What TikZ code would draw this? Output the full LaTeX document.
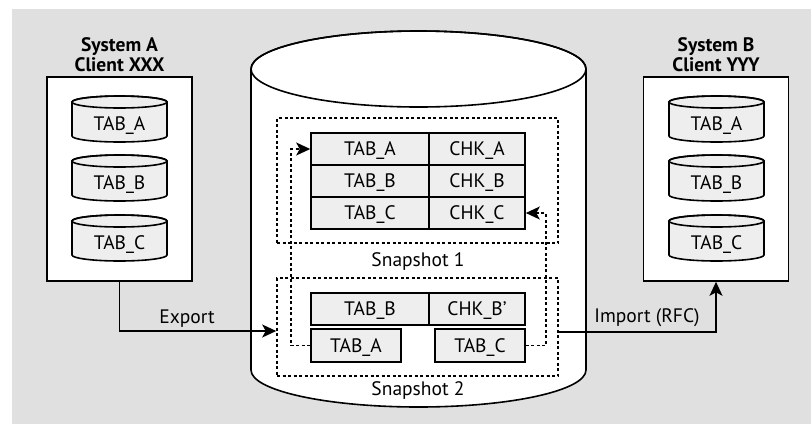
\documentclass[tikz,border=0pt]{standalone}
\usepackage{fontspec}
\setmainfont{PT Sans}
\usetikzlibrary{arrows.meta}
\definecolor{bggray}{HTML}{E0E0E0}
\definecolor{tabgray}{HTML}{EEEEEE}
\tikzset{
  txt/.style={font=\fontsize{19.5}{21}\selectfont, inner sep=0pt},
  cell/.style={txt, draw, fill=tabgray, line width=1.6pt, minimum height=32pt, text height=13.6pt, text depth=0pt},
  sysbox/.style={draw, fill=white, line width=1.6pt, minimum width=145pt, minimum height=204pt, inner sep=0pt},
  systitle/.style={inner sep=0pt, font=\fontsize{19.5}{20}\selectfont\bfseries, align=center},
  snapbox/.style={draw, line width=1.6pt, dash pattern=on 3pt off 2.5pt, minimum width=281pt, inner sep=0pt},
  flow/.style={line width=1.6pt, -{Stealth[length=14pt,width=13pt,inset=3.5pt]}},
  backflow/.style={flow, dash pattern=on 3pt off 2.5pt},
  dbline/.style={line width=1.6pt},
}
\begin{document}
\begin{tikzpicture}[x=1pt,y=-1pt]
\useasboundingbox (0,0) rectangle (811,424);
\fill[bggray] (12,9) rectangle (811,424);

\draw[dbline, fill=white] (251,69) -- (251,370) arc[start angle=180, end angle=0, x radius=167.5, y radius=37] -- (586,69) arc[start angle=0, end angle=-180, x radius=167.5, y radius=38] -- cycle;
\draw[dbline] (418.5,69) ellipse[x radius=167.5, y radius=38];

\node[sysbox] (sysA) at (119.5,179) {};
\node[sysbox] (sysB) at (716,179) {};
\node[systitle] (titleA) at (119.5,55) {System A\\Client XXX};
\node[systitle] (titleB) at (716,55) {System B\\Client YYY};
\foreach \sysid/\xx in {A/72, B/669} {
  \foreach \tabid/\yy in {A/96, B/155, C/215} {
    \draw[dbline, fill=tabgray] (\xx,\yy+6) -- ++(0,34) arc[start angle=180, end angle=0, x radius=47.5, y radius=6] -- ++(0,-34) arc[start angle=0, end angle=-180, x radius=47.5, y radius=6] -- cycle;
    \draw[dbline] (\xx+47.5,\yy+6) ellipse[x radius=47.5, y radius=6];
    \node[txt, text height=13.6pt, text depth=0pt] (sys\sysid tab\tabid) at (\xx+47.5,\yy+28) {TAB\_\tabid};
  }
}

\node[snapbox, minimum height=125pt] (snap1) at (417.5,180.5) {};
\node[snapbox, minimum height=98pt] (snap2) at (417.5,327) {};
\node[txt, anchor=base] (snap1label) at (418,266) {Snapshot 1};
\node[txt, anchor=base] (snap2label) at (418,395) {Snapshot 2};

\foreach \tabid/\yy in {A/149, B/181, C/213} {
  \node[cell, minimum width=118pt] (s1tab\tabid) at (370,\yy) {TAB\_\tabid};
  \node[cell, minimum width=96pt] (s1chk\tabid) at (477,\yy) {CHK\_\tabid};
}
\node[cell, minimum width=118pt] (s2tabB) at (370,309) {TAB\_B};
\node[cell, minimum width=96pt] (s2chkB) at (477,309) {CHK\_B’};
\node[cell, minimum width=90pt, minimum height=33pt] (s2tabA) at (356,345.5) {TAB\_A};
\node[cell, minimum width=90pt, minimum height=33pt] (s2tabC) at (480,345.5) {TAB\_C};

\draw[backflow] (s2tabA.west) -- ++(-19,0) |- (s1tabA.west);
\draw[backflow] (s2tabC.east) -- ++(20,0) |- (s1chkC.east);

\draw[flow] (sysA.south) |- ([yshift=-4pt]snap2.west);
\draw[flow] ([yshift=-5pt]snap2.east) -| (sysB.south);
\node[txt, anchor=base] (exportlabel) at (187,323) {Export};
\node[txt, anchor=base] (importlabel) at (647,322) {Import (RFC)};
\end{tikzpicture}
\end{document}
